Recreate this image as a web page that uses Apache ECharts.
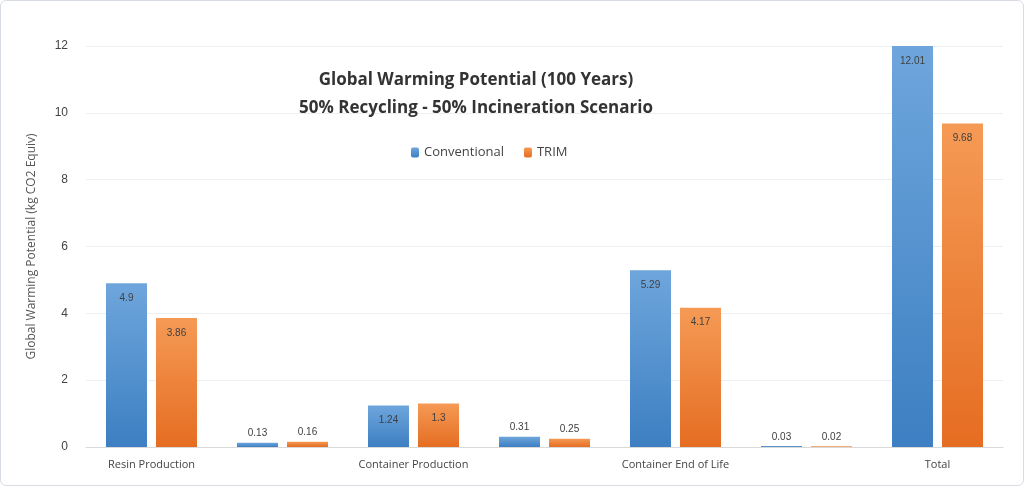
<!DOCTYPE html>
<html><head><meta charset="utf-8">
<script src="https://cdn.jsdelivr.net/npm/echarts@6/dist/echarts.min.js"></script>
<style>html,body{margin:0;background:#fff}#c{width:1024px;height:486px;box-sizing:border-box;border:1px solid #d8dde3;border-radius:6px}</style>
</head><body><div id="c"></div>
<script>
const categories=["Resin Production","Resin Transportation","Container Production","Container Transportation","Container End of Life","The Rest","Total"];
const conventional=[4.9,0.13,1.24,0.31,5.29,0.03,12.01];
const trim=[3.86,0.16,1.3,0.25,4.17,0.02,9.68];
const grad=(a,b)=>new echarts.graphic.LinearGradient(0,0,0,1,[{offset:0,color:a},{offset:1,color:b}]);
const mk=arr=>arr.map(v=>({value:v,label:{position:v<1?'top':'insideTop',distance:v<1?4:10}}));
const lbl={show:true,color:'#404040',fontSize:10,fontFamily:'Liberation Sans'};
const chart=echarts.init(document.getElementById('c'));
chart.setOption({
  animation:false,
  title:{text:'Global Warming Potential (100 Years)\n50% Recycling - 50% Incineration Scenario',left:470,top:60,textAlign:'center',
    textStyle:{fontSize:17,fontWeight:'bold',color:'#333',lineHeight:28,fontFamily:'Open Sans'}},
  legend:{top:140,left:405,itemWidth:8,itemHeight:10,itemGap:20,textStyle:{fontSize:13,color:'#444',fontFamily:'Open Sans'},data:['Conventional','TRIM']},
  grid:{left:85,right:20,top:45,bottom:38},
  xAxis:{type:'category',data:categories,axisTick:{show:false},axisLine:{lineStyle:{color:'#d9d9d9'}},
    axisLabel:{color:'#444',fontSize:11,margin:12,fontFamily:'Open Sans'}},
  yAxis:{type:'value',min:0,max:12,interval:2,name:'Global Warming Potential (kg CO2 Equiv)',nameLocation:'middle',nameGap:48,
    nameTextStyle:{color:'#555',fontSize:12,fontFamily:'Open Sans'},
    axisLabel:{color:'#444',fontSize:12,margin:18},splitLine:{lineStyle:{color:'#eceff3'}}},
  series:[
    {name:'Conventional',type:'bar',data:mk(conventional),barWidth:41,barGap:'22%',itemStyle:{color:grad('#6ea6dc','#3d7fc2')},label:lbl},
    {name:'TRIM',type:'bar',data:mk(trim),barWidth:41,itemStyle:{color:grad('#f59a55','#e56d22')},label:lbl}
  ]
});
</script></body></html>
